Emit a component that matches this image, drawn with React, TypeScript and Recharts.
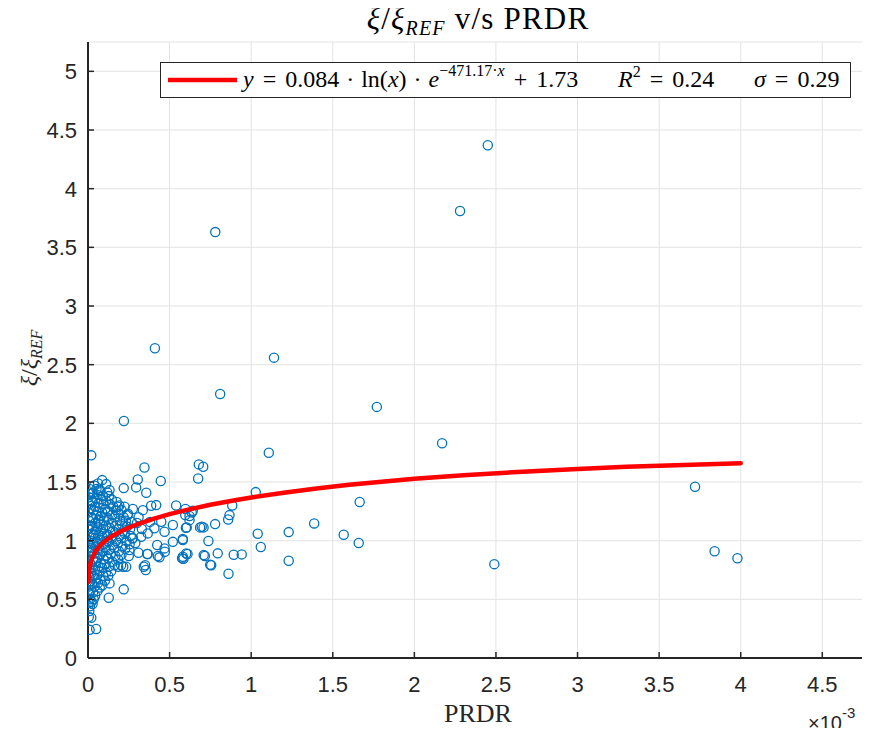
import { ComposedChart, Scatter, XAxis, YAxis, CartesianGrid } from "recharts"

// PRDR in units of 1e-3, paired with xi / xi_REF
const outlierPoints: [number, number][] = [
  [2.45, 4.37], [2.28, 3.81], [0.78, 3.63], [0.41, 2.64], [1.14, 2.56], [0.81, 2.25], [1.77, 2.14],
  [0.22, 2.02], [2.17, 1.83], [1.108, 1.749], [0.02, 1.727], [3.72, 1.46], [3.84, 0.91], [3.98, 0.85],
  [2.49, 0.8],
]

const spreadPoints: [number, number][] = [
  [0.679, 1.65], [0.706, 1.63], [0.675, 1.53], [1.028, 1.414], [1.665, 1.329], [0.884, 1.3], [0.867, 1.218],
  [0.859, 1.18], [0.642, 1.255], [0.597, 1.27], [0.622, 1.21], [0.622, 1.175], [0.605, 1.113], [0.687, 1.113],
  [0.708, 1.113], [0.779, 1.141], [1.04, 1.059], [1.23, 1.073], [1.386, 1.147], [1.567, 1.05], [1.659, 0.98],
  [0.581, 1.005], [0.738, 0.997], [1.059, 0.946], [0.61, 0.886], [0.585, 0.846], [0.716, 0.869], [0.795, 0.892],
  [0.893, 0.88], [0.942, 0.883], [0.749, 0.795], [0.755, 0.79], [1.23, 0.829], [0.861, 0.718],
]

const nearPoints: [number, number][] = [
  [0.346, 1.624], [0.305, 1.522], [0.446, 1.508], [0.087, 1.516], [0.062, 1.488], [0.111, 1.482], [0.219, 1.448],
  [0.295, 1.454], [0.132, 1.431], [0.357, 1.408], [0.026, 1.403], [0.066, 1.431], [0.219, 0.585], [0.127, 0.514],
  [0.02, 0.343], [0.005, 0.35], [0.05, 0.247], [0.01, 0.24], [0.021, 0.48], [0.132, 0.636], [0.342, 0.778],
  [0.354, 0.75], [0.216, 0.778], [0.185, 0.778], [0.25, 0.869], [0.363, 0.886], [0.438, 0.858], [0.471, 0.905],
  [0.577, 0.849], [0.418, 1.303], [0.387, 1.297], [0.336, 1.26], [0.275, 1.27], [0.54, 1.3], [0.636, 1.24],
  [0.596, 1.218], [0.697, 1.118], [0.6, 1.11], [0.52, 1.133], [0.449, 1.161], [0.407, 1.105], [0.366, 1.062],
  [0.469, 1.076], [0.581, 1.014], [0.52, 0.99], [0.424, 0.963], [0.469, 0.934], [0.366, 0.886], [0.428, 0.869],
  [0.309, 0.897], [0.254, 0.92], [0.581, 0.863], [0.602, 0.89], [0.709, 0.877], [0.35, 0.79], [0.203, 0.79],
  [0.234, 0.778], [0.275, 1.02], [0.326, 1.033], [0.244, 1.218], [0.183, 1.289], [0.224, 1.289], [0.3, 1.15],
  [0.33, 1.1], [0.29, 0.98], [0.38, 1.16], [0.31, 1.2],
]

const clusterPoints: [number, number][] = [
  [0.004, 0.47], [0.006, 0.55], [0.003, 0.61], [0.008, 0.69], [0.005, 0.76], [0.002, 0.84], [0.007, 0.9],
  [0.004, 0.97], [0.009, 1.03], [0.003, 1.1], [0.006, 1.17], [0.002, 1.24], [0.008, 1.31], [0.005, 1.37],
  [0.011, 1.44], [0.008, 0.4], [0.012, 0.44],
  [0.014, 0.5], [0.017, 0.58], [0.013, 0.65], [0.019, 0.72], [0.016, 0.8], [0.012, 0.87], [0.018, 0.94],
  [0.015, 1.0], [0.021, 1.06], [0.013, 1.13], [0.019, 1.2], [0.016, 1.27], [0.022, 1.34], [0.014, 1.4],
  [0.028, 0.46], [0.031, 0.56], [0.026, 0.63], [0.034, 0.7], [0.029, 0.77], [0.033, 0.84], [0.027, 0.91],
  [0.032, 0.98], [0.036, 1.05], [0.025, 1.12], [0.03, 1.19], [0.035, 1.26], [0.028, 1.33], [0.033, 1.41],
  [0.038, 1.47], [0.035, 0.5],
  [0.044, 0.53], [0.041, 0.61], [0.047, 0.68], [0.043, 0.75], [0.049, 0.82], [0.04, 0.89], [0.046, 0.95],
  [0.042, 1.02], [0.048, 1.09], [0.045, 1.15], [0.05, 1.22], [0.043, 1.29], [0.047, 1.36], [0.052, 1.44],
  [0.058, 0.57], [0.062, 0.64], [0.056, 0.71], [0.064, 0.78], [0.059, 0.85], [0.061, 0.92], [0.055, 0.99],
  [0.063, 1.05], [0.057, 1.12], [0.066, 1.18], [0.06, 1.25], [0.065, 1.32], [0.058, 1.39],
  [0.072, 0.6], [0.077, 0.67], [0.07, 0.74], [0.079, 0.81], [0.074, 0.88], [0.068, 0.94], [0.076, 1.01],
  [0.081, 1.08], [0.073, 1.14], [0.078, 1.21], [0.071, 1.28], [0.08, 1.35], [0.075, 1.43],
  [0.088, 0.62], [0.093, 0.7], [0.086, 0.77], [0.095, 0.84], [0.09, 0.91], [0.097, 0.97], [0.085, 1.04],
  [0.092, 1.1], [0.098, 1.17], [0.087, 1.24], [0.094, 1.31], [0.091, 1.38],
  [0.104, 0.66], [0.11, 0.73], [0.102, 0.8], [0.112, 0.87], [0.107, 0.94], [0.115, 1.0], [0.101, 1.06],
  [0.109, 1.13], [0.114, 1.2], [0.105, 1.27], [0.111, 1.34], [0.118, 1.41],
  [0.124, 0.7], [0.129, 0.78], [0.122, 0.85], [0.131, 0.92], [0.126, 0.99], [0.12, 1.05], [0.133, 1.11],
  [0.127, 1.18], [0.123, 1.25], [0.135, 1.31], [0.128, 1.38],
  [0.142, 0.74], [0.148, 0.82], [0.14, 0.89], [0.151, 0.96], [0.145, 1.02], [0.153, 1.08], [0.143, 1.15],
  [0.149, 1.22], [0.155, 1.29], [0.146, 1.35],
  [0.163, 0.79], [0.168, 0.87], [0.161, 0.94], [0.172, 1.0], [0.166, 1.07], [0.174, 1.13], [0.162, 1.2],
  [0.17, 1.26], [0.176, 1.33],
  [0.185, 0.84], [0.19, 0.91], [0.183, 0.98], [0.194, 1.04], [0.188, 1.1], [0.196, 1.17], [0.186, 1.23],
  [0.192, 1.3],
  [0.205, 0.88], [0.212, 0.95], [0.203, 1.02], [0.215, 1.08], [0.208, 1.14], [0.218, 1.2], [0.206, 1.26],
  [0.228, 0.93], [0.235, 1.0], [0.225, 1.06], [0.24, 1.12], [0.232, 1.17], [0.245, 1.23],
  [0.255, 0.97], [0.262, 1.04], [0.258, 1.1], [0.268, 1.16], [0.272, 1.02],
]

// fitted curve
const fitPrdr = [0.0025, 0.006, 0.01, 0.015, 0.02, 0.03, 0.045, 0.06, 0.08, 0.1, 0.13, 0.16, 0.2, 0.25, 0.3, 0.4, 0.5, 0.6, 0.75, 0.9, 1.0, 1.2, 1.4, 1.6, 1.8, 2.0, 2.3, 2.6, 3.0, 3.3, 3.6, 4.0]
const fitXi = [0.647, 0.723, 0.767, 0.804, 0.83, 0.867, 0.907, 0.936, 0.967, 0.992, 1.023, 1.049, 1.079, 1.111, 1.138, 1.186, 1.226, 1.26, 1.306, 1.345, 1.368, 1.409, 1.445, 1.476, 1.503, 1.527, 1.557, 1.583, 1.611, 1.629, 1.643, 1.66]

const xTicks = [0, 0.5, 1, 1.5, 2, 2.5, 3, 3.5, 4, 4.5]
const yTicks = [0, 0.5, 1, 1.5, 2, 2.5, 3, 3.5, 4, 4.5, 5]

const scatterData = [...clusterPoints, ...nearPoints, ...spreadPoints, ...outlierPoints].map(([x, y]) => ({ x, y }))
const fitData = fitPrdr.map((x, i) => ({ x, y: fitXi[i] }))

const AXIS = "#262626"
const SANS = "'Liberation Sans', Arial, Helvetica, sans-serif"
const SERIF = "'Liberation Serif', 'Times New Roman', serif"

const XTick = ({ x, y, payload }: any) => (
  <g>
    <line x1={x} x2={x} y1={y} y2={y - 6} stroke={AXIS} strokeWidth={1.5} />
    <text x={x} y={y + 34} textAnchor="middle" fontSize={22} fill={AXIS} fontFamily={SANS}>
      {payload.value}
    </text>
  </g>
)

const YTick = ({ x, y, payload }: any) => (
  <g>
    <line x1={x} x2={x + 6} y1={y} y2={y} stroke={AXIS} strokeWidth={1.5} />
    <text x={x - 11} y={y + 8} textAnchor="end" fontSize={22} fill={AXIS} fontFamily={SANS}>
      {payload.value}
    </text>
  </g>
)

const Ring = ({ cx, cy }: any) => (
  <circle cx={cx} cy={cy} r={4.6} fill="none" stroke="#0072BD" strokeWidth={1.3} />
)

const NoMarker = () => <g />

const it = { fontStyle: "italic" as const }

export default function App() {
  return (
    <div style={{ position: "relative", width: 870, height: 736, margin: -8, background: "#fff" }}>
      <ComposedChart width={870} height={736} margin={{ top: 42, right: 2, bottom: 0, left: 0 }}>
        <CartesianGrid stroke="#e3e3e3" strokeWidth={1} />
        <XAxis
          type="number"
          dataKey="x"
          domain={[0, 4.78]}
          ticks={xTicks}
          height={78}
          tickSize={0}
          tickMargin={0}
          tick={<XTick />}
          axisLine={{ stroke: AXIS, strokeWidth: 2 }}
          allowDataOverflow
        />
        <YAxis
          type="number"
          dataKey="y"
          domain={[0, 5.25]}
          ticks={yTicks}
          width={88}
          tickSize={0}
          tickMargin={0}
          tick={<YTick />}
          axisLine={{ stroke: AXIS, strokeWidth: 2 }}
          allowDataOverflow
        />
        <Scatter data={scatterData} shape={<Ring />} isAnimationActive={false} />
        <Scatter
          data={fitData}
          shape={<NoMarker />}
          line={{ stroke: "#ff0000", strokeWidth: 4.5, strokeLinecap: "round", strokeLinejoin: "round" }}
          lineType="joint"
          fill="#ff0000"
          isAnimationActive={false}
        />
      </ComposedChart>

      <svg width={870} height={736} style={{ position: "absolute", left: 0, top: 0, pointerEvents: "none" }}>
        <text x={478} y={29} textAnchor="middle" fontFamily={SERIF} fontSize={31} letterSpacing={1.2} fill="#000">
          <tspan style={it}>ξ</tspan>/<tspan style={it}>ξ</tspan>
          <tspan style={it} fontSize={20} dy={6}>REF</tspan>
          <tspan dy={-6}> v/s PRDR</tspan>
        </text>

        <text x={478} y={722} textAnchor="middle" fontFamily={SERIF} fontSize={26} fill={AXIS}>
          PRDR
        </text>

        <text x={808} y={730} fontFamily={SANS} fontSize={20} fill={AXIS}>
          ×10<tspan fontSize={15} dy={-12}>-3</tspan>
        </text>

        <text transform="translate(37,358) rotate(-90)" textAnchor="middle" fontFamily={SERIF} fontSize={24} fill={AXIS}>
          <tspan style={it}>ξ</tspan>/<tspan style={it}>ξ</tspan>
          <tspan style={it} fontSize={16} dy={5}>REF</tspan>
        </text>

        <rect x={160.5} y={62.5} width={690} height={35} fill="#fff" stroke={AXIS} strokeWidth={1} />
        <line x1={168} x2={237} y1={80} y2={80} stroke="#ff0000" strokeWidth={4.5} />
        <text y={87} fontFamily={SERIF} fontSize={24} fill="#000">
          <tspan x={243} style={it}>y</tspan>
          <tspan dx={9}>=</tspan>
          <tspan dx={9}>0.084</tspan>
          <tspan dx={7}>·</tspan>
          <tspan dx={7}>ln(</tspan>
          <tspan style={it}>x</tspan>
          <tspan>)</tspan>
          <tspan dx={7}>·</tspan>
          <tspan dx={7} style={it}>e</tspan>
          <tspan fontSize={16} dy={-11}>−471.17·</tspan>
          <tspan fontSize={16} style={it}>x</tspan>
          <tspan dx={9} dy={11}>+</tspan>
          <tspan dx={9}>1.73</tspan>
          <tspan x={618} style={it}>R</tspan>
          <tspan fontSize={16} dy={-10}>2</tspan>
          <tspan dx={9} dy={10}>=</tspan>
          <tspan dx={9}>0.24</tspan>
          <tspan x={754} style={it}>σ</tspan>
          <tspan dx={9}>=</tspan>
          <tspan dx={9}>0.29</tspan>
        </text>
      </svg>
    </div>
  )
}
